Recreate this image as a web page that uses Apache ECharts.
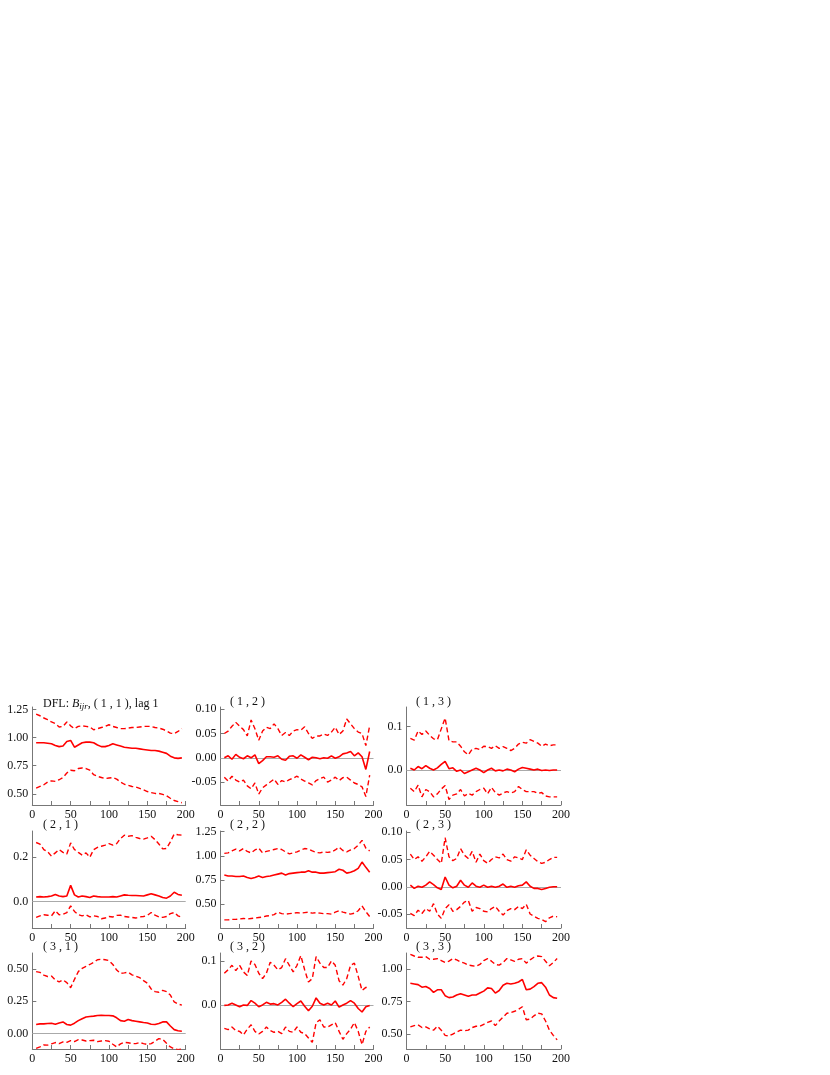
<!DOCTYPE html>
<html>
<head>
<meta charset="utf-8">
<title>DFL B_ijr, lag 1</title>
<script src="https://cdn.jsdelivr.net/npm/echarts@6/dist/echarts.min.js"></script>
<style>
  html, body { margin: 0; padding: 0; background: #fff; }
  #main { width: 830px; height: 1075px; }
</style>
</head>
<body>
<div id="main"></div>
<script>
// time index of the estimates
var xs = [5, 10, 15, 20, 25, 30, 35, 40, 45, 50,
  55, 60, 65, 70, 75, 80, 85, 90, 95, 100,
  105, 110, 115, 120, 125, 130, 135, 140, 145, 150,
  155, 160, 165, 170, 175, 180, 185, 190, 195];

var xTicks = [0, 50, 100, 150, 200];
var xTickMarks = [0, 25, 50, 75, 100, 125, 150, 175, 200];

// y tick labels per panel
var ticks11 = [0.5, 0.75, 1.0, 1.25];
var ticks12 = [-0.05, 0, 0.05, 0.1];
var ticks13 = [0, 0.1];
var ticks21 = [0, 0.2];
var ticks22 = [0.5, 0.75, 1.0, 1.25];
var ticks23 = [-0.05, 0, 0.05, 0.1];
var ticks31 = [0, 0.25, 0.5];
var ticks32 = [0, 0.1];
var ticks33 = [0.5, 0.75, 1.0];

// (1,1)
var b11Up = [1.21, 1.195, 1.175, 1.16, 1.14, 1.125, 1.095, 1.10, 1.14, 1.105,
  1.08, 1.10, 1.105, 1.10, 1.095, 1.07, 1.08, 1.09, 1.10, 1.115,
  1.10, 1.09, 1.08, 1.08, 1.085, 1.09, 1.09, 1.095, 1.10, 1.10,
  1.10, 1.09, 1.085, 1.075, 1.06, 1.04, 1.035, 1.055, 1.08];
var b11Mid = [0.955, 0.955, 0.955, 0.95, 0.945, 0.93, 0.92, 0.925, 0.965, 0.975,
  0.915, 0.935, 0.955, 0.96, 0.96, 0.955, 0.935, 0.92, 0.92, 0.93,
  0.945, 0.935, 0.925, 0.915, 0.91, 0.905, 0.905, 0.90, 0.895, 0.89,
  0.885, 0.885, 0.88, 0.87, 0.86, 0.835, 0.82, 0.815, 0.82];
var b11Lo = [0.55, 0.565, 0.58, 0.605, 0.615, 0.61, 0.625, 0.645, 0.685, 0.71,
  0.705, 0.725, 0.73, 0.725, 0.71, 0.67, 0.655, 0.645, 0.635, 0.64,
  0.645, 0.63, 0.605, 0.585, 0.575, 0.565, 0.56, 0.548, 0.535, 0.52,
  0.51, 0.503, 0.503, 0.495, 0.482, 0.46, 0.44, 0.43, 0.42];

// (1,2)
var b12Up = [0.05, 0.055, 0.065, 0.073, 0.065, 0.058, 0.045, 0.078, 0.06, 0.036,
  0.055, 0.063, 0.06, 0.07, 0.06, 0.046, 0.052, 0.046, 0.055, 0.058,
  0.057, 0.064, 0.05, 0.04, 0.045, 0.045, 0.049, 0.046, 0.053, 0.063,
  0.048, 0.055, 0.08, 0.07, 0.06, 0.053, 0.05, 0.025, 0.066];
var b12Mid = [0.0, 0.004, -0.003, 0.007, 0.001, -0.002, 0.004, 0.0, 0.006, -0.012,
  -0.006, 0.002, 0.002, 0.001, 0.004, -0.003, -0.005, 0.003, 0.004, -0.001,
  0.006, 0.001, -0.004, 0.001, 0.0, -0.002, 0.0, -0.001, 0.004, -0.001,
  0.002, 0.008, 0.01, 0.013, 0.004, 0.01, 0.002, -0.024, 0.013];
var b12Lo = [-0.04, -0.048, -0.038, -0.046, -0.05, -0.046, -0.058, -0.064, -0.052, -0.075,
  -0.062, -0.056, -0.05, -0.044, -0.055, -0.047, -0.05, -0.045, -0.042, -0.038,
  -0.044, -0.048, -0.052, -0.056, -0.047, -0.043, -0.04, -0.05, -0.046, -0.04,
  -0.047, -0.041, -0.04, -0.046, -0.052, -0.055, -0.06, -0.08, -0.036];

// (1,3)
var b13Up = [0.073, 0.069, 0.09, 0.082, 0.09, 0.08, 0.072, 0.07, 0.095, 0.12,
  0.068, 0.065, 0.065, 0.055, 0.042, 0.035, 0.048, 0.05, 0.047, 0.055,
  0.054, 0.05, 0.056, 0.05, 0.054, 0.05, 0.045, 0.05, 0.06, 0.064,
  0.062, 0.07, 0.066, 0.062, 0.055, 0.06, 0.056, 0.058, 0.058];
var b13Mid = [0.004, 0.0, 0.008, 0.003, 0.01, 0.004, 0.0, 0.005, 0.013, 0.02,
  0.003, 0.005, -0.003, 0.0, -0.008, -0.004, 0.0, 0.004, 0.0, -0.006,
  0.0, 0.004, -0.002, 0.0, -0.002, 0.002, 0.0, -0.004, 0.002, 0.006,
  0.004, 0.002, 0.0, 0.002, -0.001, 0.0, -0.001, 0.0, 0.0];
var b13Lo = [-0.042, -0.05, -0.035, -0.062, -0.045, -0.05, -0.062, -0.055, -0.044, -0.036,
  -0.068, -0.058, -0.055, -0.045, -0.06, -0.054, -0.058, -0.05, -0.045, -0.042,
  -0.055, -0.04, -0.052, -0.058, -0.053, -0.05, -0.053, -0.05, -0.038, -0.045,
  -0.05, -0.05, -0.05, -0.054, -0.052, -0.06, -0.062, -0.062, -0.062];

// (2,1)
var b21Up = [0.267, 0.26, 0.235, 0.225, 0.205, 0.22, 0.235, 0.222, 0.215, 0.265,
  0.235, 0.222, 0.21, 0.22, 0.2, 0.235, 0.245, 0.25, 0.255, 0.262,
  0.255, 0.262, 0.285, 0.30, 0.295, 0.298, 0.29, 0.285, 0.282, 0.288,
  0.295, 0.28, 0.26, 0.238, 0.24, 0.27, 0.305, 0.302, 0.30];
var b21Mid = [0.02, 0.022, 0.02, 0.022, 0.025, 0.032, 0.025, 0.022, 0.025, 0.073,
  0.03, 0.02, 0.025, 0.022, 0.018, 0.025, 0.022, 0.02, 0.02, 0.02,
  0.022, 0.02, 0.025, 0.03, 0.028, 0.027, 0.027, 0.026, 0.025, 0.03,
  0.035, 0.03, 0.025, 0.018, 0.015, 0.025, 0.042, 0.032, 0.028];
var b21Lo = [-0.072, -0.065, -0.06, -0.062, -0.065, -0.042, -0.06, -0.058, -0.05, -0.02,
  -0.045, -0.06, -0.065, -0.06, -0.07, -0.065, -0.068, -0.078, -0.075, -0.068,
  -0.07, -0.063, -0.062, -0.068, -0.07, -0.072, -0.075, -0.07, -0.068, -0.063,
  -0.05, -0.062, -0.07, -0.072, -0.068, -0.055, -0.05, -0.065, -0.072];

// (2,2)
var b22Up = [1.025, 1.03, 1.05, 1.07, 1.05, 1.075, 1.045, 1.03, 1.06, 1.08,
  1.03, 1.045, 1.055, 1.065, 1.075, 1.065, 1.04, 1.02, 1.03, 1.04,
  1.06, 1.075, 1.07, 1.05, 1.035, 1.03, 1.04, 1.035, 1.04, 1.06,
  1.09, 1.055, 1.04, 1.06, 1.075, 1.11, 1.16, 1.08, 1.05];
var b22Mid = [0.80, 0.79, 0.79, 0.785, 0.785, 0.79, 0.775, 0.765, 0.775, 0.79,
  0.775, 0.785, 0.79, 0.80, 0.81, 0.82, 0.80, 0.815, 0.82, 0.825,
  0.83, 0.83, 0.845, 0.83, 0.83, 0.82, 0.82, 0.825, 0.83, 0.835,
  0.86, 0.85, 0.82, 0.83, 0.845, 0.87, 0.935, 0.88, 0.83];
var b22Lo = [0.335, 0.335, 0.34, 0.34, 0.345, 0.35, 0.345, 0.35, 0.355, 0.36,
  0.365, 0.375, 0.38, 0.39, 0.415, 0.40, 0.395, 0.40, 0.405, 0.41,
  0.405, 0.41, 0.415, 0.405, 0.41, 0.405, 0.40, 0.40, 0.395, 0.415,
  0.43, 0.415, 0.405, 0.395, 0.405, 0.43, 0.48, 0.42, 0.37];

// (2,3)
var b23Up = [0.06, 0.05, 0.055, 0.047, 0.055, 0.065, 0.058, 0.05, 0.043, 0.09,
  0.055, 0.048, 0.052, 0.07, 0.058, 0.052, 0.065, 0.045, 0.06, 0.048,
  0.043, 0.05, 0.055, 0.053, 0.06, 0.05, 0.047, 0.055, 0.053, 0.05,
  0.068, 0.058, 0.052, 0.046, 0.043, 0.045, 0.05, 0.054, 0.054];
var b23Mid = [0.003, -0.003, 0.001, -0.001, 0.003, 0.009, 0.004, -0.002, -0.005, 0.018,
  0.003, -0.002, 0.001, 0.012, 0.003, -0.001, 0.007, 0.001, -0.001, 0.003,
  -0.001, 0.001, -0.001, 0.001, 0.005, -0.001, 0.001, -0.001, 0.002, 0.003,
  0.009, 0.001, -0.003, -0.003, -0.005, -0.003, -0.001, 0.0, 0.0];
var b23Lo = [-0.049, -0.053, -0.043, -0.049, -0.04, -0.045, -0.031, -0.05, -0.058, -0.04,
  -0.033, -0.045, -0.042, -0.036, -0.028, -0.025, -0.045, -0.038, -0.04, -0.045,
  -0.046, -0.04, -0.036, -0.045, -0.052, -0.044, -0.04, -0.042, -0.036, -0.04,
  -0.032, -0.05, -0.054, -0.058, -0.06, -0.064, -0.057, -0.054, -0.055];

// (3,1)
var b31Up = [0.48, 0.474, 0.453, 0.442, 0.445, 0.415, 0.40, 0.415, 0.395, 0.355,
  0.42, 0.48, 0.505, 0.52, 0.535, 0.552, 0.572, 0.575, 0.572, 0.565,
  0.535, 0.492, 0.466, 0.47, 0.475, 0.455, 0.445, 0.433, 0.41, 0.39,
  0.345, 0.325, 0.32, 0.335, 0.324, 0.298, 0.245, 0.228, 0.22];
var b31Mid = [0.07, 0.075, 0.075, 0.078, 0.08, 0.072, 0.082, 0.09, 0.07, 0.065,
  0.08, 0.10, 0.115, 0.128, 0.132, 0.135, 0.14, 0.142, 0.14, 0.14,
  0.137, 0.122, 0.10, 0.095, 0.108, 0.10, 0.095, 0.09, 0.085, 0.082,
  0.072, 0.07, 0.078, 0.09, 0.09, 0.058, 0.03, 0.022, 0.018];
var b31Lo = [-0.115, -0.104, -0.088, -0.09, -0.08, -0.07, -0.078, -0.065, -0.068, -0.055,
  -0.062, -0.048, -0.05, -0.058, -0.055, -0.052, -0.063, -0.058, -0.055, -0.06,
  -0.083, -0.104, -0.08, -0.068, -0.072, -0.078, -0.078, -0.07, -0.078, -0.085,
  -0.078, -0.06, -0.04, -0.045, -0.075, -0.104, -0.118, -0.125, -0.12];

// (3,2)
var b32Up = [0.072, 0.08, 0.09, 0.078, 0.09, 0.075, 0.067, 0.1, 0.092, 0.072,
  0.06, 0.072, 0.097, 0.09, 0.08, 0.085, 0.105, 0.09, 0.075, 0.09,
  0.112, 0.08, 0.052, 0.06, 0.11, 0.095, 0.085, 0.085, 0.1, 0.09,
  0.055, 0.045, 0.06, 0.09, 0.095, 0.065, 0.033, 0.04, 0.038];
var b32Mid = [-0.001, 0.0, 0.004, 0.0, -0.004, 0.0, -0.001, 0.01, 0.004, -0.004,
  0.0, 0.006, 0.002, 0.003, 0.0, 0.006, 0.013, 0.004, -0.004, 0.003,
  0.009, -0.003, -0.013, -0.003, 0.016, 0.004, 0.0, 0.004, 0.0, 0.009,
  -0.005, 0.0, 0.004, 0.01, 0.004, -0.008, -0.016, -0.004, -0.001];
var b32Lo = [-0.053, -0.056, -0.05, -0.058, -0.06, -0.068, -0.055, -0.045, -0.06, -0.066,
  -0.06, -0.05, -0.058, -0.062, -0.06, -0.065, -0.05, -0.06, -0.062, -0.05,
  -0.062, -0.065, -0.075, -0.085, -0.04, -0.034, -0.05, -0.05, -0.045, -0.04,
  -0.06, -0.078, -0.065, -0.055, -0.04, -0.06, -0.09, -0.06, -0.05];

// (3,3)
var b33Up = [1.113, 1.10, 1.09, 1.09, 1.095, 1.075, 1.075, 1.08, 1.065, 1.05,
  1.06, 1.08, 1.07, 1.055, 1.045, 1.03, 1.025, 1.02, 1.035, 1.065,
  1.08, 1.06, 1.035, 1.03, 1.05, 1.08, 1.07, 1.058, 1.075, 1.08,
  1.045, 1.07, 1.09, 1.10, 1.095, 1.06, 1.025, 1.05, 1.08];
var b33Mid = [0.89, 0.885, 0.88, 0.86, 0.865, 0.85, 0.82, 0.84, 0.84, 0.795,
  0.78, 0.785, 0.80, 0.81, 0.80, 0.79, 0.80, 0.80, 0.815, 0.83,
  0.855, 0.85, 0.815, 0.835, 0.875, 0.89, 0.885, 0.89, 0.90, 0.92,
  0.84, 0.845, 0.865, 0.89, 0.895, 0.86, 0.80, 0.78, 0.775];
var b33Lo = [0.555, 0.565, 0.57, 0.55, 0.555, 0.54, 0.53, 0.56, 0.53, 0.49,
  0.485, 0.50, 0.515, 0.53, 0.525, 0.53, 0.55, 0.56, 0.56, 0.575,
  0.59, 0.60, 0.565, 0.60, 0.63, 0.66, 0.665, 0.675, 0.69, 0.71,
  0.61, 0.615, 0.64, 0.66, 0.655, 0.60, 0.53, 0.49, 0.455];

var panels = [
  { name: 'DFL: {it|B}{sub|ijr}, ( 1 , 1 ), lag 1', up: b11Up, mid: b11Mid, lo: b11Lo, yMin: 0.40, yMax: 1.273, ticks: ticks11, dec: 2, zero: false },
  { name: '( 1 , 2 )', up: b12Up, mid: b12Mid, lo: b12Lo, yMin: -0.0974, yMax: 0.1047, ticks: ticks12, dec: 2, zero: true },
  { name: '( 1 , 3 )', up: b13Up, mid: b13Mid, lo: b13Lo, yMin: -0.0808, yMax: 0.1455, ticks: ticks13, dec: 1, zero: true },
  { name: '( 2 , 1 )', up: b21Up, mid: b21Mid, lo: b21Lo, yMin: -0.12, yMax: 0.319, ticks: ticks21, dec: 1, zero: true },
  { name: '( 2 , 2 )', up: b22Up, mid: b22Mid, lo: b22Lo, yMin: 0.251, yMax: 1.257, ticks: ticks22, dec: 2, zero: false },
  { name: '( 2 , 3 )', up: b23Up, mid: b23Mid, lo: b23Lo, yMin: -0.0757, yMax: 0.1024, ticks: ticks23, dec: 2, zero: true },
  { name: '( 3 , 1 )', up: b31Up, mid: b31Mid, lo: b31Lo, yMin: -0.12, yMax: 0.624, ticks: ticks31, dec: 2, zero: true },
  { name: '( 3 , 2 )', up: b32Up, mid: b32Mid, lo: b32Lo, yMin: -0.10, yMax: 0.118, ticks: ticks32, dec: 1, zero: true },
  { name: '( 3 , 3 )', up: b33Up, mid: b33Mid, lo: b33Lo, yMin: 0.385, yMax: 1.123, ticks: ticks33, dec: 2, zero: false }
];

// layout of the 3x3 panels (px)
var colLeft = [32.3, 220.5, 406.5];
var colWidth = [153.4, 153, 154.5];
var rowTop = [707, 831, 953];
var rowHeight = [98, 97, 96];
var titleLeft = [43, 230, 416];
var titleTop = [696, 819, 941];

var FONT = '"Liberation Serif", "DejaVu Serif", serif';
var RED = '#ff0000';
var AXIS = '#777';

function pts(arr) {
  return xs.map(function (x, i) { return [x, arr[i]]; });
}

var grids = [], xAxes = [], yAxes = [], series = [], titles = [];

panels.forEach(function (p, k) {
  var r = Math.floor(k / 3), c = k % 3;

  grids.push({ left: colLeft[c], top: rowTop[r], width: colWidth[c], height: rowHeight[r] });

  xAxes.push({
    type: 'value', gridIndex: k, min: 0, max: 200,
    axisLine: { show: true, onZero: false, lineStyle: { color: AXIS, width: 1 } },
    axisTick: { show: true, inside: true, length: 4, customValues: xTickMarks, lineStyle: { color: AXIS } },
    axisLabel: { customValues: xTicks, margin: 4, fontSize: 12, color: '#111', fontFamily: FONT },
    splitLine: { show: false }
  });

  yAxes.push({
    type: 'value', gridIndex: k, min: p.yMin, max: p.yMax,
    axisLine: { show: true, onZero: false, lineStyle: { color: AXIS, width: 1 } },
    axisTick: { show: true, inside: true, length: 4, customValues: p.ticks, lineStyle: { color: AXIS } },
    axisLabel: {
      customValues: p.ticks, margin: 4, fontSize: 12, color: '#111', fontFamily: FONT,
      formatter: function (v) { return (+v).toFixed(p.dec); }
    },
    splitLine: { show: false }
  });

  // grey zero reference line, kept beneath the red curves
  if (p.zero) {
    series.push({
      type: 'line', xAxisIndex: k, yAxisIndex: k, data: [], z: 1,
      markLine: {
        silent: true, symbol: 'none', label: { show: false }, animation: false, z: 1,
        lineStyle: { color: '#aaa', width: 1, type: 'solid' },
        data: [{ yAxis: 0 }]
      }
    });
  }

  var dash = { color: RED, width: 1.4, type: [5, 3] };

  series.push({
    type: 'line', xAxisIndex: k, yAxisIndex: k, data: pts(p.up), z: 3,
    symbol: 'none', lineStyle: dash
  });
  series.push({
    type: 'line', xAxisIndex: k, yAxisIndex: k, data: pts(p.mid), z: 3,
    symbol: 'none', lineStyle: { color: RED, width: 1.6, type: 'solid' }
  });
  series.push({
    type: 'line', xAxisIndex: k, yAxisIndex: k, data: pts(p.lo), z: 3,
    symbol: 'none', lineStyle: dash
  });

  titles.push({
    text: p.name, left: titleLeft[c], top: titleTop[r], padding: 0,
    textStyle: {
      fontFamily: FONT, fontSize: 12, fontWeight: 'normal', color: '#111',
      rich: {
        it: { fontFamily: FONT, fontSize: 12, fontStyle: 'italic', color: '#111' },
        sub: { fontFamily: FONT, fontSize: 9, fontStyle: 'italic', color: '#111', padding: [6, 0, 0, 0] }
      }
    }
  });
});

var chart = echarts.init(document.getElementById('main'), null, { renderer: 'canvas' });
chart.setOption({
  animation: false,
  backgroundColor: '#fff',
  title: titles,
  grid: grids,
  xAxis: xAxes,
  yAxis: yAxes,
  series: series
});
</script>
</body>
</html>
